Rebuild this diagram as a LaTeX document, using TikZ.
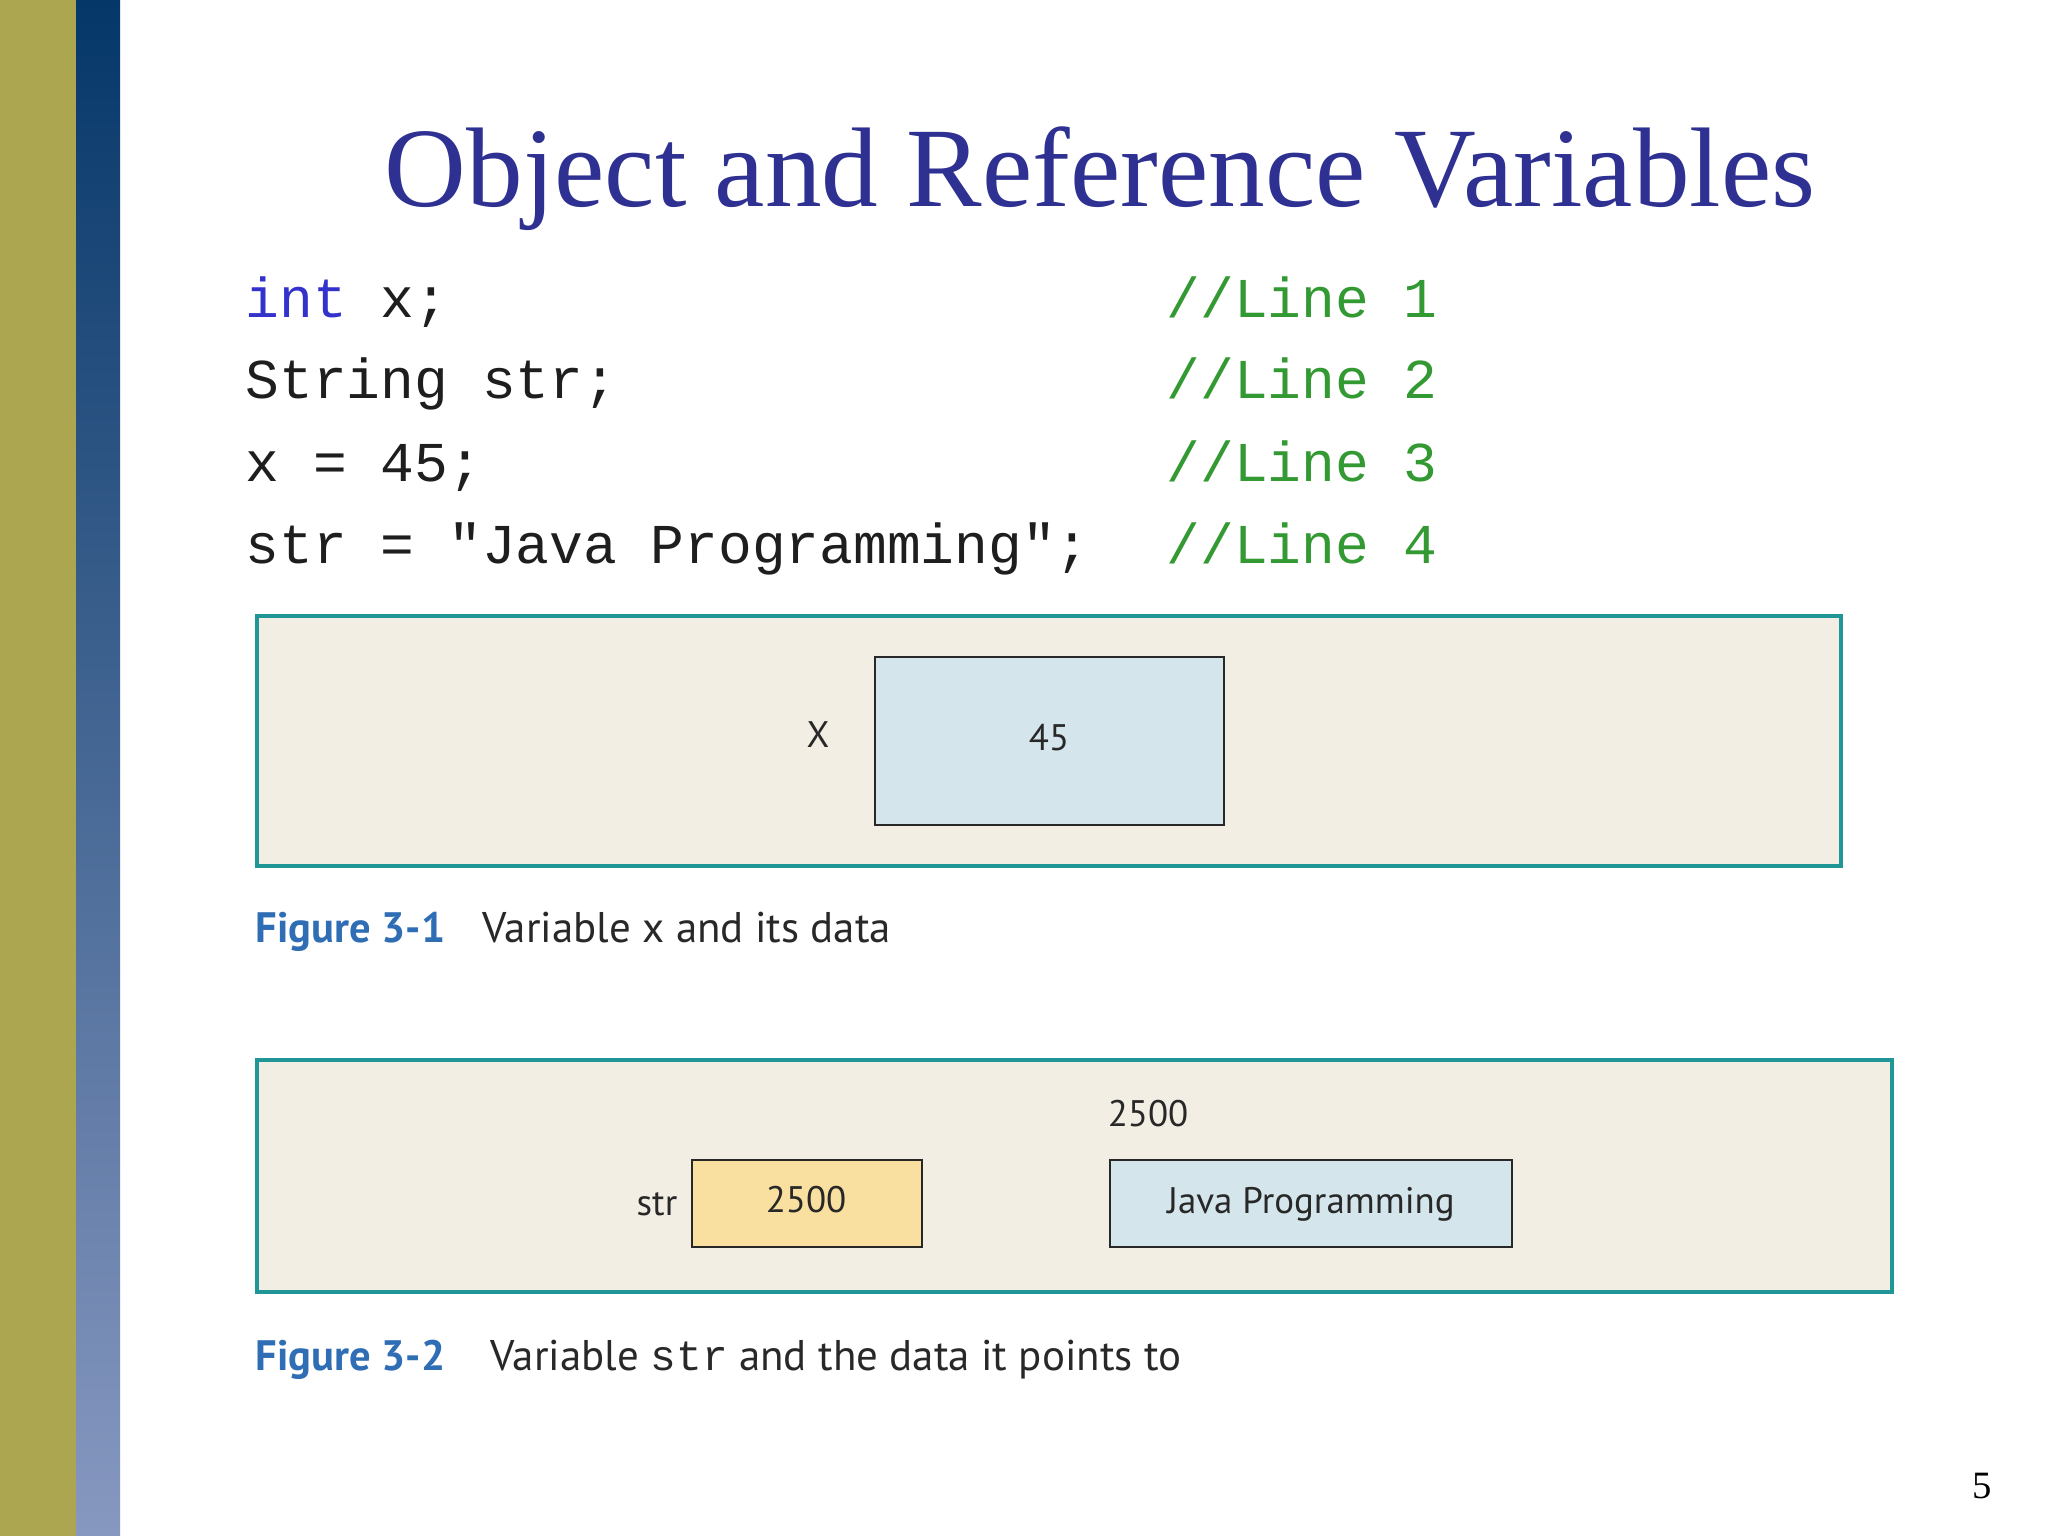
\documentclass[tikz,border=0pt]{standalone}
\usepackage{fontspec}
\setmainfont{Liberation Serif}
\setsansfont{PT Sans}
\setmonofont{Liberation Mono}
\usetikzlibrary{positioning}
\definecolor{barolive}{RGB}{172,166,80}
\definecolor{bartop}{RGB}{5,55,105}
\definecolor{barbottom}{RGB}{135,152,192}
\definecolor{titleblue}{RGB}{46,49,146}
\definecolor{keyblue}{RGB}{51,51,204}
\definecolor{commentgreen}{RGB}{51,153,51}
\definecolor{codeink}{RGB}{30,30,30}
\definecolor{figbeige}{RGB}{242,238,228}
\definecolor{figteal}{RGB}{32,150,150}
\definecolor{cellblue}{RGB}{212,230,236}
\definecolor{cellorange}{RGB}{250,224,160}
\definecolor{capblue}{RGB}{47,109,181}
\definecolor{inkgray}{RGB}{40,40,40}

\begin{document}
\begin{tikzpicture}[x=0.01cm,y=-0.01cm,
    codeline/.style={anchor=base west,inner sep=0pt,text=codeink,font=\fontsize{16}{18}\selectfont\ttfamily},
    figpanel/.style={draw=figteal,line width=1.1pt,fill=figbeige},
    cell/.style={draw=inkgray,line width=0.7pt},
    cellfont/.style={font=\sffamily\fontsize{10.5}{12}\selectfont,text=inkgray},
    capnum/.style={anchor=base west,inner sep=0pt,font=\sffamily\bfseries\fontsize{12.1}{14}\selectfont,text=capblue},
    captext/.style={anchor=base west,inner sep=0pt,font=\sffamily\fontsize{12.2}{14}\selectfont,text=inkgray}]
  \useasboundingbox (0,0) rectangle (2048,1536);
  \fill[white] (0,0) rectangle (2048,1536);
  % side bars
  \fill[barolive] (0,0) rectangle (76,1536);
  \shade[top color=bartop,bottom color=barbottom] (76,0) rectangle (120,1536);
  % title
  \node[anchor=base,inner sep=0pt,text=titleblue,font=\fontsize{32.2}{35}\selectfont] (title) at (1100,206)
    {Object and Reference Variables};
  % code
  \node[codeline] (c1) at (245,317) {\textcolor{keyblue}{int} x;};
  \node[codeline] (c2) at (245,398) {String str;};
  \node[codeline] (c3) at (245,481) {x = 45;};
  \node[codeline] (c4) at (245,563) {str = "Java Programming";};
  \foreach \n/\yy in {1/317,2/398,3/481,4/563}
    \node[codeline,text=commentgreen] (l\n) at (1166,\yy) {//Line \n};
  % figure 3-1
  \draw[figpanel] (257,616) rectangle (1841,866);
  \draw[cell,fill=cellblue] (875,657) rectangle (1224,825);
  \node[cellfont] (xval) at (1049,738) {45};
  \node[cellfont] (xname) at (818,735) {X};
  \node[capnum] (cap1) at (255,942) {Figure 3-1};
  \node[captext] (cap1t) at (482,942) {Variable x and its data};
  % figure 3-2
  \draw[figpanel] (257,1060) rectangle (1892,1292);
  \draw[cell,fill=cellorange] (692,1160) rectangle (922,1247);
  \draw[cell,fill=cellblue] (1110,1160) rectangle (1512,1247);
  \node[cellfont] (strval) at (806,1200) {2500};
  \node[cellfont] (strname) at (657,1204) {str};
  \node[cellfont] (addr) at (1148,1114) {2500};
  \node[cellfont] (javaval) at (1311,1204) {Java Programming};
  \node[capnum] (cap2) at (255,1370) {Figure 3-2};
  \node[captext] (cap2t) at (490,1370) {Variable \texttt{str} and the data it points to};
  % page number
  \node[font=\fontsize{11}{12}\selectfont] (pnum) at (1982,1486) {5};
\end{tikzpicture}
\end{document}
